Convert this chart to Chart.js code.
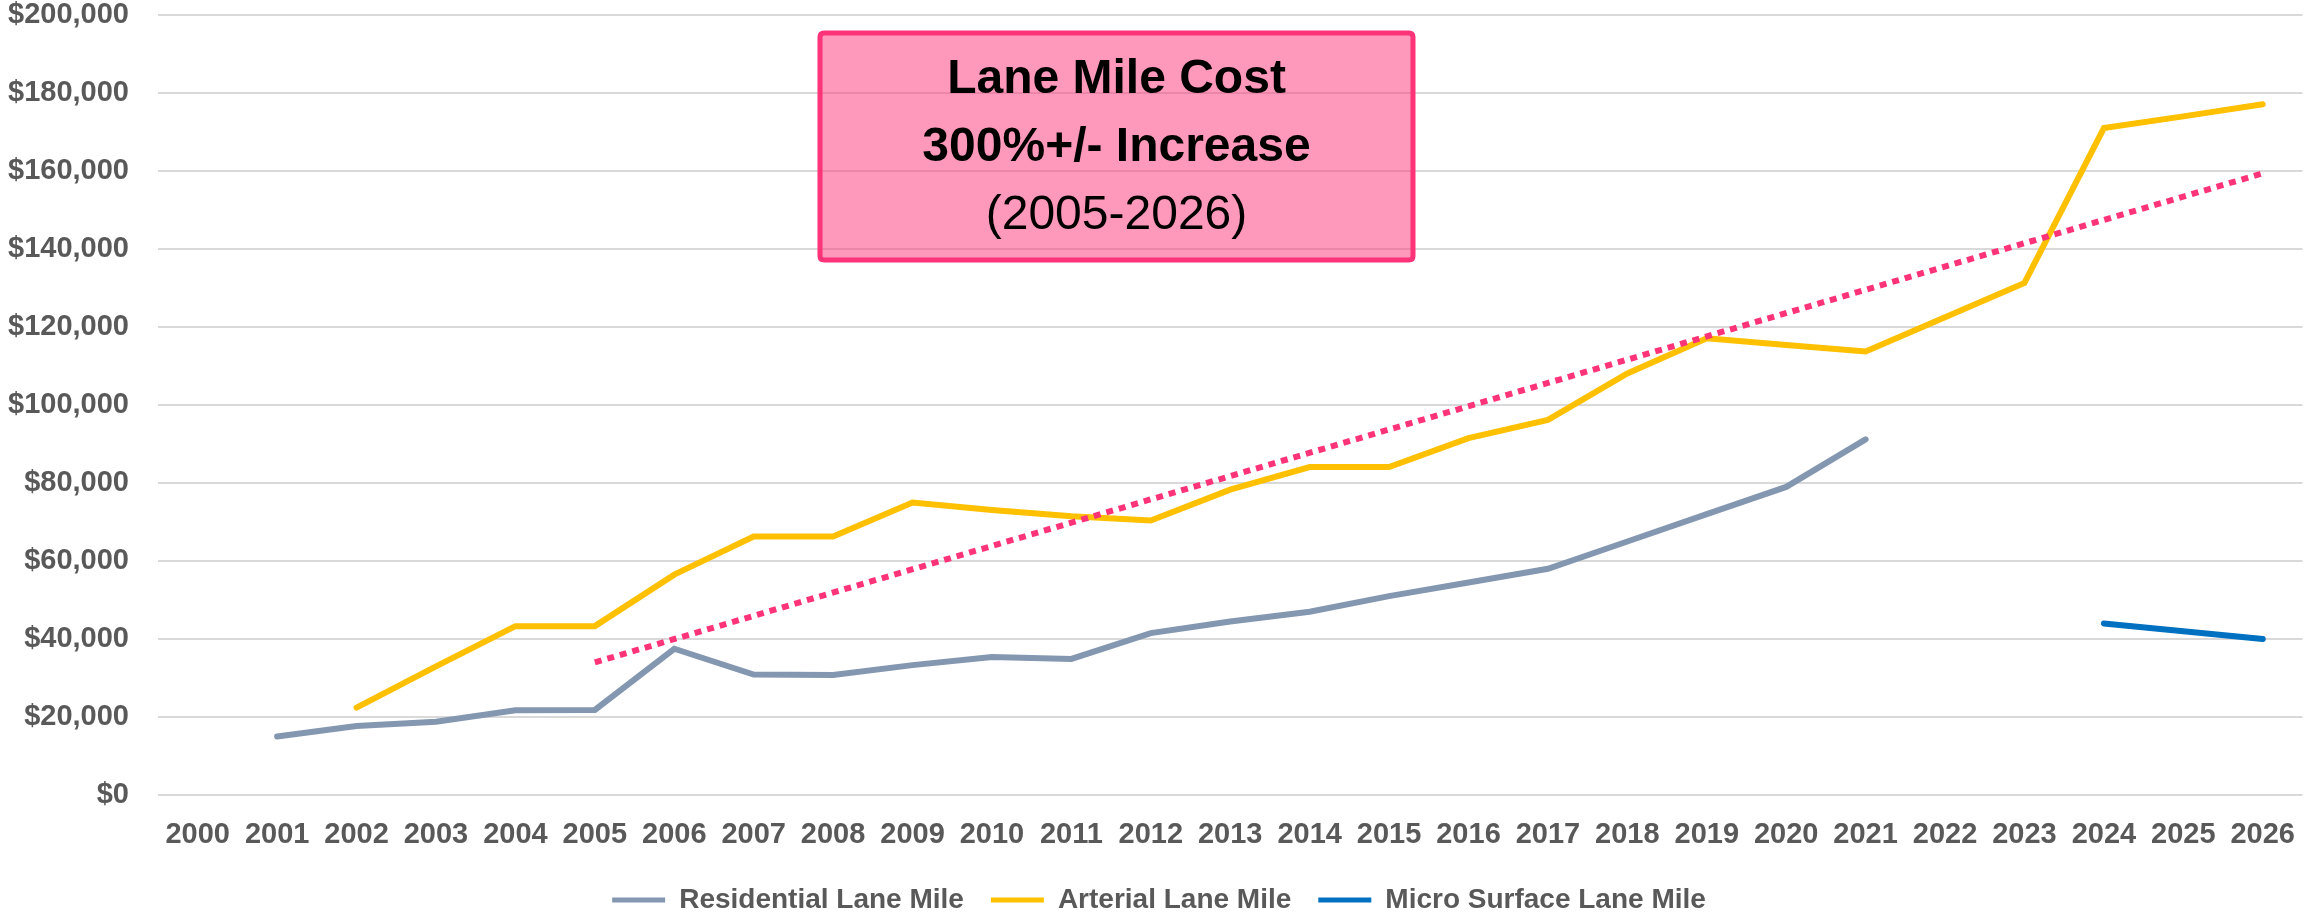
<!DOCTYPE html>
<html>
<head>
<meta charset="utf-8">
<script src="https://cdn.jsdelivr.net/npm/chart.js@4.4.1/dist/chart.umd.min.js"></script>
<style>
  html, body { margin: 0; padding: 0; background: #ffffff; }
  canvas { display: block; }
</style>
</head>
<body>
<canvas id="laneMileChart" width="2318" height="917"></canvas>
<script>
// Datos del gráfico
var years = ['2000', '2001', '2002', '2003', '2004', '2005', '2006', '2007', '2008', '2009',
             '2010', '2011', '2012', '2013', '2014', '2015', '2016', '2017', '2018', '2019',
             '2020', '2021', '2022', '2023', '2024', '2025', '2026'];

var residentialLaneMile = [null, 15000, 17700, 18800, 21700, 21800, 37500, 30900, 30800, 33300,
                           35400, 34900, 41500, 44500, 47000, 51000, 54500, 58000, 65000, 72000,
                           79000, 91200, null, null, null, null, null];

var arterialLaneMile = [null, null, 22400, 33000, 43300, 43300, 56500, 66300, 66300, 75000,
                        73100, 71500, 70400, 78300, 84100, 84100, 91500, 96200, 108100, 117100,
                        115400, 113700, 122500, 131300, 171000, 174000, 177100];

var microSurfaceLaneMile = [null, null, null, null, null, null, null, null, null, null,
                            null, null, null, null, null, null, null, null, null, null,
                            null, null, null, null, 44000, 42000, 40000];

// Línea de tendencia (2005-2026): solo los dos extremos
var trendLine = [null, null, null, null, null, 34000, null, null, null, null,
                 null, null, null, null, null, null, null, null, null, null,
                 null, null, null, null, null, null, 159400];

var yTicks = [0, 20000, 40000, 60000, 80000, 100000, 120000, 140000, 160000, 180000, 200000];

var boxLines = ['Lane Mile Cost', '300%+/- Increase', '(2005-2026)'];

Chart.defaults.color = '#595959';
Chart.defaults.font.family = "'Liberation Sans', Arial, sans-serif";

// Cuadro rosa con el texto
var costBox = {
    id: 'costBox',
    beforeDatasetsDraw: function (chart) {
        var ctx = chart.ctx;
        var x = 820, y = 33, w = 593, h = 227, r = 4;
        ctx.save();
        ctx.beginPath();
        ctx.moveTo(x + r, y);
        ctx.lineTo(x + w - r, y);
        ctx.quadraticCurveTo(x + w, y, x + w, y + r);
        ctx.lineTo(x + w, y + h - r);
        ctx.quadraticCurveTo(x + w, y + h, x + w - r, y + h);
        ctx.lineTo(x + r, y + h);
        ctx.quadraticCurveTo(x, y + h, x, y + h - r);
        ctx.lineTo(x, y + r);
        ctx.quadraticCurveTo(x, y, x + r, y);
        ctx.closePath();
        ctx.fillStyle = 'rgba(255, 51, 119, 0.5)';
        ctx.fill();
        ctx.lineWidth = 5;
        ctx.strokeStyle = '#FF3377';
        ctx.stroke();

        ctx.fillStyle = '#000000';
        ctx.textAlign = 'center';
        ctx.textBaseline = 'middle';
        ctx.font = "bold 48px 'Liberation Sans', Arial, sans-serif";
        ctx.fillText(boxLines[0], x + w / 2, 80);
        ctx.fillText(boxLines[1], x + w / 2, 148);
        ctx.font = "48px 'Liberation Sans', Arial, sans-serif";
        ctx.fillText(boxLines[2], x + w / 2, 216);
        ctx.restore();
    }
};

new Chart(document.getElementById('laneMileChart').getContext('2d'), {
    type: 'line',
    data: {
        labels: years,
        datasets: [{
            label: 'Residential Lane Mile',
            data: residentialLaneMile,
            borderColor: '#8497B0',
            backgroundColor: '#8497B0',
            borderWidth: 6,
            pointRadius: 0,
            tension: 0,
            borderCapStyle: 'round',
            order: 3
        }, {
            label: 'Arterial Lane Mile',
            data: arterialLaneMile,
            borderColor: '#FFC000',
            backgroundColor: '#FFC000',
            borderWidth: 6,
            pointRadius: 0,
            tension: 0,
            borderCapStyle: 'round',
            order: 2
        }, {
            label: 'Micro Surface Lane Mile',
            data: microSurfaceLaneMile,
            borderColor: '#0070C0',
            backgroundColor: '#0070C0',
            borderWidth: 6,
            pointRadius: 0,
            tension: 0,
            borderCapStyle: 'round',
            order: 1
        }, {
            label: 'Trend',
            data: trendLine,
            borderColor: '#FF3377',
            backgroundColor: '#FF3377',
            borderWidth: 6,
            borderDash: [7, 6],
            borderCapStyle: 'butt',
            pointRadius: 0,
            spanGaps: true,
            tension: 0,
            order: 0
        }]
    },
    options: {
        responsive: false,
        animation: false,
        layout: {
            autoPadding: false,
            padding: { top: 0, right: 0, bottom: -7, left: 0 }
        },
        scales: {
            x: {
                offset: true,
                afterFit: function (scale) {
                    scale.height = 64;
                },
                grid: { display: false, drawTicks: false },
                border: { display: false },
                ticks: {
                    padding: 23,
                    maxRotation: 0,
                    autoSkip: false,
                    color: '#595959',
                    font: { size: 29, weight: 'bold' }
                }
            },
            y: {
                min: 0,
                max: 200000,
                afterBuildTicks: function (scale) {
                    scale.ticks = yTicks.map(function (v) { return { value: v }; });
                },
                afterFit: function (scale) {
                    scale.width = 158;
                    scale.paddingTop = 15;
                    scale.paddingBottom = 0;
                },
                grid: { color: '#D9D9D9', lineWidth: 2, drawTicks: false },
                border: { display: false },
                ticks: {
                    padding: 29,
                    color: '#595959',
                    font: { size: 29, weight: 'bold' },
                    callback: function (value) {
                        return '$' + value.toLocaleString('en-US');
                    }
                }
            }
        },
        plugins: {
            legend: {
                display: true,
                position: 'bottom',
                labels: {
                    boxWidth: 53,
                    boxHeight: 5,
                    padding: 27,
                    color: '#595959',
                    font: { size: 28, weight: 'bold' },
                    filter: function (item) {
                        return item.text !== 'Trend';
                    },
                    generateLabels: function (chart) {
                        return chart.data.datasets.map(function (ds, i) {
                            return {
                                text: ds.label,
                                fillStyle: ds.borderColor,
                                strokeStyle: ds.borderColor,
                                fontColor: '#595959',
                                lineWidth: 0,
                                hidden: false,
                                datasetIndex: i
                            };
                        });
                    }
                }
            },
            tooltip: { enabled: false }
        }
    },
    plugins: [costBox]
});
</script>
</body>
</html>
